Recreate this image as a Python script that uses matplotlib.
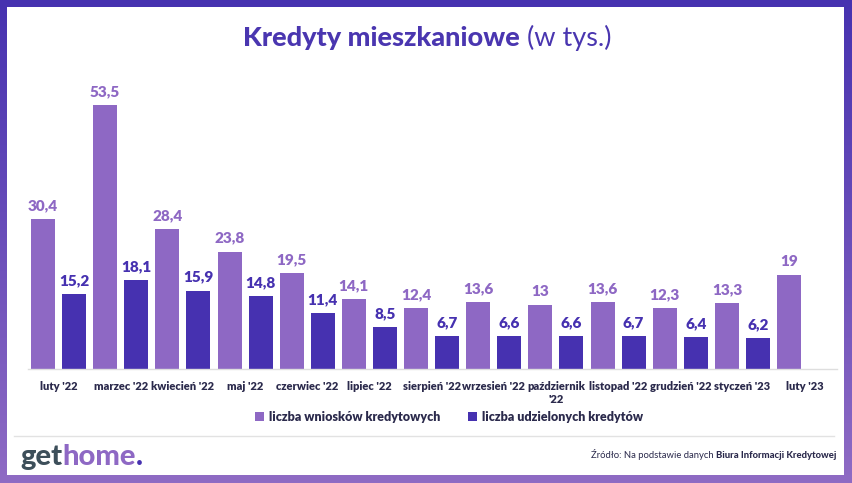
import matplotlib
matplotlib.use("Agg")
import matplotlib.pyplot as plt
from matplotlib.patches import Rectangle, Patch
import numpy as np

plt.rcParams['font.family'] = ['Lato', 'DejaVu Sans']

months = ["luty '22", "marzec '22", "kwiecień '22", "maj '22", "czerwiec '22",
          "lipiec '22", "sierpień '22", "wrzesień '22", "październik\n'22",
          "listopad '22", "grudzień '22", "styczeń '23", "luty '23"]
wnioski = [30.4, 53.5, 28.4, 23.8, 19.5, 14.1, 12.4, 13.6, 13, 13.6, 12.3, 13.3, 19]
udzielone = [15.2, 18.1, 15.9, 14.8, 11.4, 8.5, 6.7, 6.6, 6.6, 6.7, 6.4, 6.2, None]

LIGHT = '#8e68c4'
DARK = '#4631b0'
TXT = '#2b2a4c'
W, H = 852, 483

fig = plt.figure(figsize=(W / 100, H / 100), dpi=100)

# purple gradient frame
bg = fig.add_axes([0, 0, 1, 1])
bg.set_axis_off()
grad = np.linspace(0, 1, 256).reshape(-1, 1)
cmap = matplotlib.colors.LinearSegmentedColormap.from_list('frame', ['#4632b0', '#8f6bc4'])
bg.imshow(grad, aspect='auto', cmap=cmap, extent=[0, W, H, 0])
bg.add_patch(Rectangle((7, 7), 837, 468, facecolor='white', edgecolor='none'))
bg.plot([14, 834], [436, 436], color='#e2e2e2', lw=1)
bg.set_xlim(0, W)
bg.set_ylim(H, 0)


def px(x, y):
    return x / W, 1 - y / H


ax = fig.add_axes([28 / W, (H - 369) / H, (837 - 28) / W, 296 / H])
ax.patch.set_alpha(0)
x = np.arange(len(months))
bw = 0.386
off = 0.249
ax.bar(x - off, wnioski, width=bw, color=LIGHT, zorder=2)
ud_x = [i + off for i, v in enumerate(udzielone) if v is not None]
ud_v = [v for v in udzielone if v is not None]
ax.bar(ud_x, ud_v, width=bw, color=DARK, zorder=2)


def fmt(v):
    return ('%g' % v).replace('.', ',')


for i, v in enumerate(wnioski):
    ax.annotate(fmt(v), (i - off, v), xytext=(0, 5), textcoords='offset points',
                ha='center', va='bottom', fontsize=11, fontweight='heavy', color=LIGHT)
for xi, v in zip(ud_x, ud_v):
    ax.annotate(fmt(v), (xi, v), xytext=(0, 5), textcoords='offset points',
                ha='center', va='bottom', fontsize=11, fontweight='heavy', color=DARK)

ax.set_xlim(-0.49, 12.52)
ax.set_ylim(0, 60)
ax.set_xticks(x)
ax.set_xticklabels(months, fontsize=8, fontweight='heavy', color=TXT, va='top')
ax.tick_params(axis='x', length=0, pad=9)
ax.set_yticks([])
for s in ['top', 'left', 'right']:
    ax.spines[s].set_visible(False)
ax.spines['bottom'].set_color('#dedede')
ax.spines['bottom'].set_linewidth(1)

handles = [Patch(facecolor=LIGHT, label='liczba wniosków kredytowych'),
           Patch(facecolor=DARK, label='liczba udzielonych kredytów')]
leg = fig.legend(handles=handles, loc='center', bbox_to_anchor=px(449, 417), ncol=2,
                 frameon=False, handlelength=0.75, handleheight=0.75, handletextpad=0.4,
                 columnspacing=2.2, prop={'weight': 'heavy', 'size': 9})
for t in leg.get_texts():
    t.set_color(TXT)

fig.canvas.draw()
r = fig.canvas.get_renderer()


def run_text(parts, x0, y0, align='left'):
    # parts: list of (text, kwargs); placed one after another on the same baseline
    objs = []
    for s, kw in parts:
        objs.append(fig.text(0, 0, s, va='baseline', ha='left', **kw))
    widths = [o.get_window_extent(r).width for o in objs]
    total = sum(widths)
    start = x0 - total / 2 if align == 'center' else (x0 - total if align == 'right' else x0)
    cur = start
    for o, w_ in zip(objs, widths):
        o.set_position(px(cur, y0))
        cur += w_


run_text([('Kredyty mieszkaniowe', dict(fontsize=19.5, fontweight='black', color='#4a36b0')),
          (' (w tys.)', dict(fontsize=19.5, fontweight='normal', color='#4a36b0'))],
         427, 46, align='center')

run_text([('get', dict(fontsize=21, fontweight='black', color='#3d4f5a')),
          ('home', dict(fontsize=21, fontweight='black', color=LIGHT)),
          ('.', dict(fontsize=21, fontweight='black', color=DARK))],
         20, 465)

run_text([('Źródło: Na podstawie danych ', dict(fontsize=6.8, color=TXT)),
          ('Biura Informacji Kredytowej', dict(fontsize=6.8, fontweight='black', color=TXT))],
         836, 458, align='right')

fig.savefig('out.png', dpi=100)
